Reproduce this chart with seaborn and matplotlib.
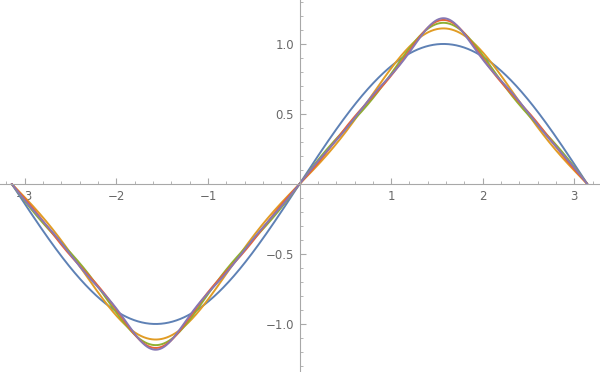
import numpy as np
import pandas as pd
import matplotlib
matplotlib.use("Agg")
import matplotlib.pyplot as plt
import seaborn as sns
from matplotlib.ticker import MultipleLocator

# Fourier partial sums of a triangle wave: harmonic numbers and amplitudes
harmonics = [1, 3, 5, 7, 9]
amplitudes = [1.0, -1/9, 1/25, -1/49, 1/81]
series_names = ["n=1", "n=2", "n=3", "n=4", "n=5"]
colors = ["#5E81B5", "#E19C24", "#8FB032", "#EB6235", "#8778B3"]
x_ticks = [-3, -2, -1, 1, 2, 3]
y_ticks = [-1.0, -0.5, 0.5, 1.0]

x = np.linspace(-np.pi, np.pi, 1200)
frames = []
for k, name in enumerate(series_names):
    y = sum(a * np.sin(h * x) for h, a in zip(harmonics[:k + 1], amplitudes[:k + 1]))
    frames.append(pd.DataFrame({"x": x, "y": y, "series": name}))
df = pd.concat(frames, ignore_index=True)

sns.set_style("white")
fig = plt.figure(figsize=(6, 3.72), dpi=100)
ax = fig.add_axes([0, 0, 1, 1])
sns.lineplot(data=df, x="x", y="y", hue="series", palette=colors,
             linewidth=1.4, legend=False, ax=ax, sort=False)

ax.set_xlim(-3.27, 3.28)
ax.set_ylim(-1.343, 1.314)
for s in ["top", "right"]:
    ax.spines[s].set_visible(False)
ax.spines["left"].set_position(("data", 0))
ax.spines["bottom"].set_position(("data", 0))
for s in ["left", "bottom"]:
    ax.spines[s].set_color("#a8a8a8")
    ax.spines[s].set_linewidth(0.8)

ax.set_xticks(x_ticks)
ax.set_xticklabels(["\u22123", "\u22122", "\u22121", "1", "2", "3"])
ax.set_yticks(y_ticks)
ax.set_yticklabels(["\u22121.0", "\u22120.5", "0.5", "1.0"])
ax.xaxis.set_minor_locator(MultipleLocator(0.2))
ax.yaxis.set_minor_locator(MultipleLocator(0.1))
ax.tick_params(which="major", direction="in", length=4, width=0.8, color="#a8a8a8",
               labelsize=8.5, labelcolor="#686868", pad=4)
ax.tick_params(which="minor", direction="in", length=2.2, width=0.6, color="#a8a8a8")
ax.tick_params(axis="x", which="both", bottom=True, top=False)
ax.tick_params(axis="y", which="both", left=True, right=False)
ax.set_xlabel("")
ax.set_ylabel("")
ax.patch.set_alpha(0)

fig.savefig("out.png", dpi=100)
